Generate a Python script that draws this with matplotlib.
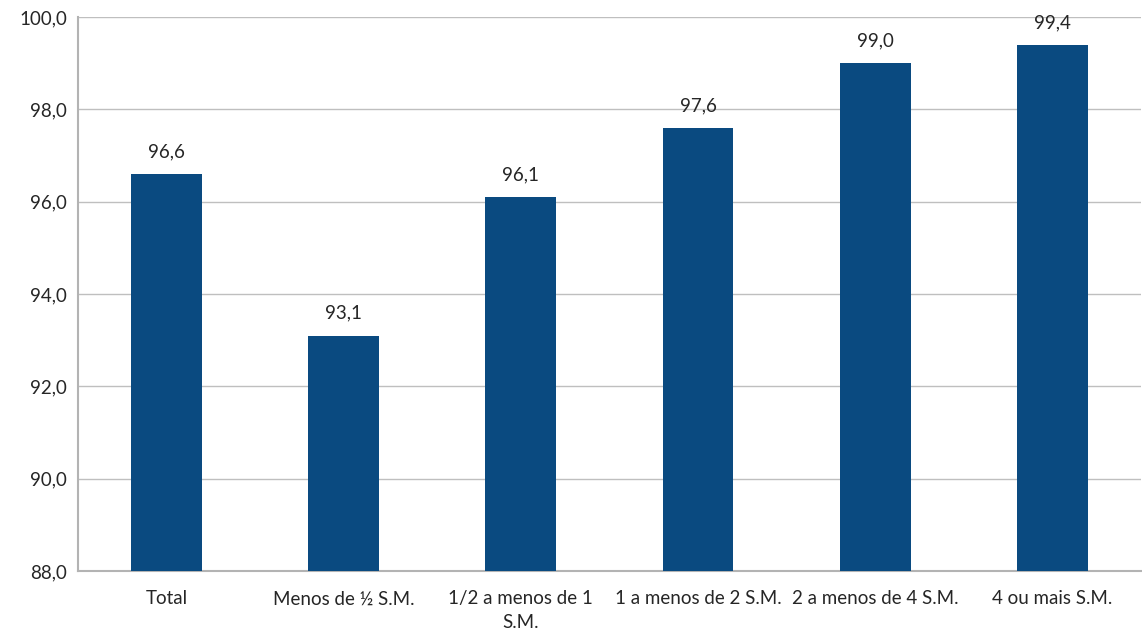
import matplotlib.pyplot as plt
import numpy as np

categories = ['Total', 'Menos de ½ S.M.', '1/2 a menos de 1\nS.M.',
              '1 a menos de 2 S.M.', '2 a menos de 4 S.M.', '4 ou mais S.M.']
values = [96.6, 93.1, 96.1, 97.6, 99.0, 99.4]
yticks = [88, 90, 92, 94, 96, 98, 100]

plt.rcParams['font.family'] = ['Lato', 'DejaVu Sans']


def fmt(v):
    return f'{v:.1f}'.replace('.', ',')


def main():
    fig = plt.figure(figsize=(11.42, 6.36), dpi=100)
    ax = fig.add_axes([0.0683, 0.1022, 0.9307, 0.8711])

    x = np.arange(len(categories))
    bars = ax.bar(x, values, width=0.4, color='#0a4a80', zorder=3)

    for b, v in zip(bars, values):
        ax.annotate(fmt(v), (b.get_x() + b.get_width() / 2, v),
                    xytext=(0, 16), textcoords='offset points',
                    ha='center', va='center', fontsize=13.5, color='#262626',
                    zorder=4)

    ax.set_xlim(-0.5, len(categories) - 0.5)
    ax.set_ylim(88, 100)
    ax.set_yticks(yticks)
    ax.set_yticklabels([fmt(t) for t in yticks], fontsize=13.5, color='#262626')
    ax.set_xticks(x)
    ax.set_xticklabels(categories, fontsize=13.5, color='#262626',
                       linespacing=1.45, va='top')
    ax.tick_params(axis='both', length=0)
    ax.tick_params(axis='x', pad=14)
    ax.tick_params(axis='y', pad=8)

    ax.grid(axis='y', color='#bfbfbf', linewidth=1, zorder=0)
    for side in ['top', 'right']:
        ax.spines[side].set_visible(False)
    ax.spines['left'].set_color('#b3b3b3')
    ax.spines['left'].set_linewidth(1.5)
    ax.spines['bottom'].set_color('#b3b3b3')
    ax.spines['bottom'].set_linewidth(1.5)

    fig.savefig('out.png', dpi=100)


if __name__ == '__main__':
    main()
